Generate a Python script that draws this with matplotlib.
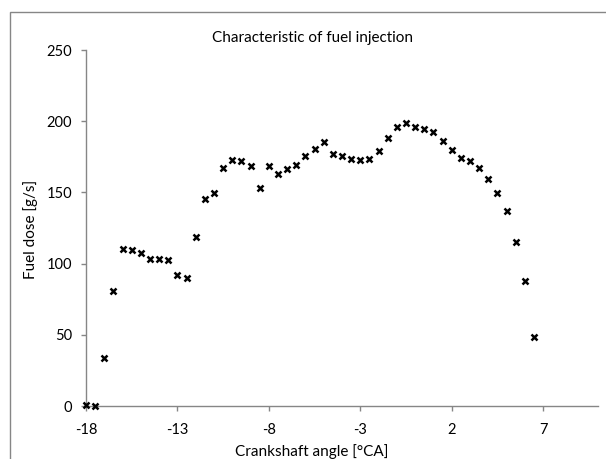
import numpy as np
import matplotlib
matplotlib.use("Agg")
import matplotlib.pyplot as plt
from matplotlib.patches import Rectangle

# crank angle [deg CA] and fuel dose [g/s]
angle = [-18, -17.5, -17, -16.5, -16, -15.5, -15, -14.5, -14, -13.5,
         -13, -12.5, -12, -11.5, -11, -10.5, -10, -9.5, -9, -8.5,
         -8, -7.5, -7, -6.5, -6, -5.5, -5, -4.5, -4, -3.5,
         -3, -2.5, -2, -1.5, -1, -0.5, 0, 0.5, 1, 1.5,
         2, 2.5, 3, 3.5, 4, 4.5, 5, 5.5, 6, 6.5]
dose = [1, 0, 34, 81, 110.5, 109.5, 107.7, 103, 103, 102.8,
        91.8, 90.2, 118.7, 145.6, 149.6, 167.4, 172.5, 172, 168.5, 153,
        168.5, 162.7, 166.2, 169, 175.4, 180.5, 185.2, 177.2, 175.4, 173.5,
        173, 173.7, 179.3, 188, 195.9, 199, 196, 194.3, 192.4, 186.1,
        180, 174.2, 171.8, 167.4, 159.2, 149.6, 137, 115.2, 87.8, 48.2]

xticks = [-18, -13, -8, -3, 2, 7]
yticks = [0, 50, 100, 150, 200, 250]

plt.rcParams['font.family'] = ['Lato', 'DejaVu Sans']
plt.rcParams['axes.unicode_minus'] = False

fig = plt.figure(figsize=(6.06, 4.59), dpi=100)
ax = fig.add_axes([86/606, 1 - 406/459, 512/606, 356/459])

ax.plot(angle, dose, linestyle='none', marker='x', color='black',
        markersize=4.5, markeredgewidth=1.8, clip_on=False, zorder=3)

ax.set_xlim(-18, 10)
ax.set_ylim(0, 250)
ax.set_xticks(xticks)
ax.set_yticks(yticks)
# tick length / pad are in points (dpi 100 -> 1pt = 1.39px)
ax.tick_params(labelsize=10.5, colors='#868686', labelcolor='black',
               length=3.6, width=1, direction='out')
ax.tick_params(axis='x', pad=9)
ax.tick_params(axis='y', pad=6.5)

for s in ['top', 'right']:
    ax.spines[s].set_visible(False)
for s in ['left', 'bottom']:
    ax.spines[s].set_color('#868686')
    ax.spines[s].set_linewidth(1)

# titles placed like the excel chart (centered on the chart area)
fig.text(312/606, 1 - 38/459, "Characteristic of fuel injection",
         ha='center', va='center', fontsize=11)
fig.text(312/606, 1 - 452/459, "Crankshaft angle [°CA]",
         ha='center', va='center', fontsize=11)
fig.text(31/606, 1 - 229/459, "Fuel dose [g/s]", rotation=90,
         ha='center', va='center', fontsize=11)

# outer chart border
fig.patches.append(Rectangle((10/606, -0.1), 1.1, 1.1 - 12/459,
                             transform=fig.transFigure, fill=False,
                             edgecolor='#868686', linewidth=1))

fig.savefig("out.png", dpi=100)
